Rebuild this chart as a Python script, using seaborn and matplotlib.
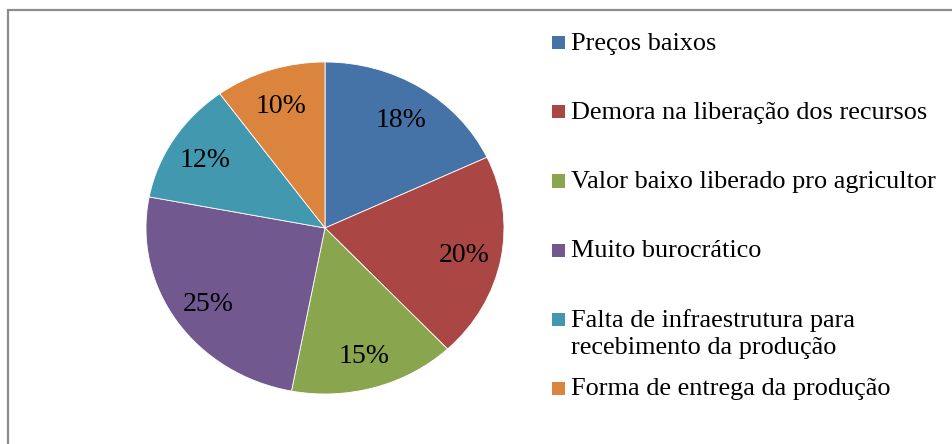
import matplotlib
matplotlib.use("Agg")
import matplotlib.pyplot as plt
import seaborn as sns
from matplotlib.patches import Rectangle

categories = [
    "Preços baixos",
    "Demora na liberação dos recursos",
    "Valor baixo liberado pro agricultor",
    "Muito burocrático",
    "Falta de infraestrutura para\nrecebimento da produção",
    "Forma de entrega da produção",
]
values = [18, 20, 15, 25, 12, 10]
colors = ["#4572A7", "#AA4643", "#89A54E", "#71588F", "#4198AF", "#DB843D"]

sns.set_theme(style="white")
plt.rcParams["font.family"] = ["Liberation Serif", "DejaVu Serif"]

W, H = 952, 444
fig = plt.figure(figsize=(W / 100, H / 100), dpi=100)

# chart frame (only top and left edges visible)
fig.patches.append(Rectangle((8 / W, -0.1), 1.5, (H - 10) / H + 0.1,
                             transform=fig.transFigure, fill=False,
                             edgecolor="#8c8c8c", linewidth=1.6))

cx, cy, rx, ry = 325, 228, 179, 166
ax = fig.add_axes([(cx - rx) / W, (H - (cy + ry)) / H, 2 * rx / W, 2 * ry / H])
wedges, texts, autotexts = ax.pie(
    values, colors=colors, startangle=90, counterclock=False,
    autopct=lambda p: f"{p:.0f}%", pctdistance=0.79,
    wedgeprops=dict(edgecolor="white", linewidth=0.6),
    textprops=dict(fontsize=20, color="black"))
for t in autotexts:
    t.set_va("center_baseline")
ax.set_aspect("auto")
ax.set_xlim(-1, 1)
ax.set_ylim(-1, 1)
ax.axis("off")

# legend
y0, dy = 43, 69
for i, (lab, col) in enumerate(zip(categories, colors)):
    yc = y0 + i * dy
    fig.patches.append(Rectangle((552 / W, 1 - (yc + 6.5) / H), 13 / W, 13 / H,
                                 transform=fig.transFigure, facecolor=col,
                                 edgecolor="none"))
    fig.text(571 / W, 1 - (yc - 10) / H, lab, fontsize=18.9, va="top",
             ha="left", color="black", linespacing=1.3)

fig.savefig("out.png", dpi=100)
